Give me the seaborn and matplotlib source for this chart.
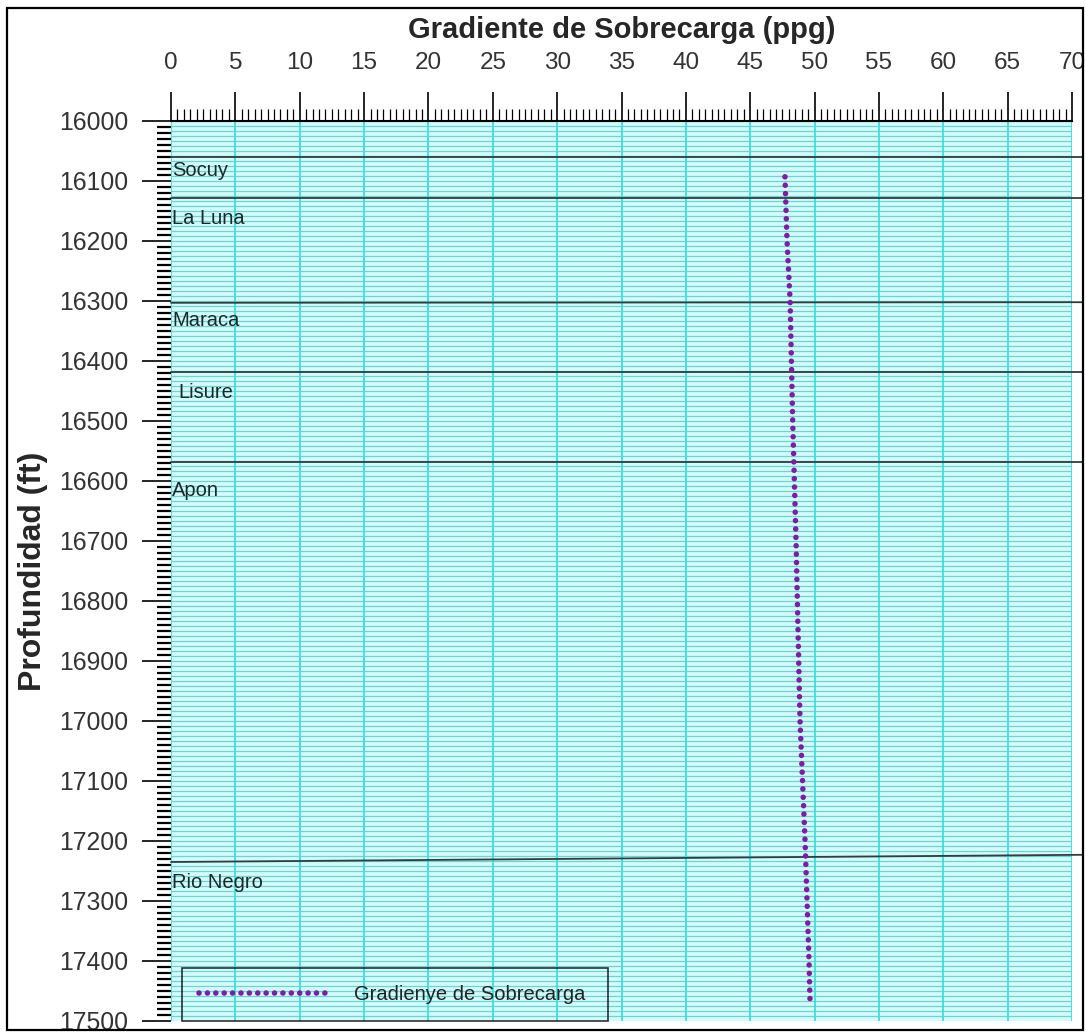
import numpy as np
import seaborn as sns
import matplotlib.pyplot as plt
from matplotlib.patches import Rectangle

# overburden gradient curve (ppg vs depth ft)
depth = [16093, 16200, 16300, 16500, 16700, 17000, 17200, 17400, 17470]
gradient = [47.7, 47.86, 48.1, 48.3, 48.56, 48.87, 49.26, 49.57, 49.65]

# formation tops: depth at left edge and right edge of the line
formations = ["Socuy", "La Luna", "Maraca", "Lisure", "Apon", "Rio Negro"]
top_left = [16060, 16128, 16303, 16418, 16568, 17235]
top_right = [16060, 16128, 16302, 16418, 16568, 17223]
label_depth = [16082, 16162, 16332, 16453, 16615, 17270]

x_ticks = list(range(0, 75, 5))
y_ticks = list(range(16000, 17600, 100))

sns.set_theme(style="white")
plt.rcParams['font.family'] = ['Liberation Sans', 'DejaVu Sans']

fig = plt.figure(figsize=(10.86, 10.34), dpi=100)
ax = fig.add_axes([171 / 1086, 1 - 1021 / 1034, 901 / 1086, 900 / 1034])
ax.set_facecolor('#d2fbfb')

# grid
for yy in np.arange(16000, 17500, 100 / 12):
    ax.axhline(yy, color='#76d0d0', lw=0.9, zorder=1)
for xx in x_ticks:
    ax.axvline(xx, color='#3ddede', lw=1.3, zorder=1.5)

# formation tops
for name, yl, yr, yt in zip(formations, top_left, top_right, label_depth):
    ax.plot([0, 70.8], [yl, yr], color='#2f3f3f', lw=1.3, clip_on=False, zorder=2)
    dx = 0.55 if name == "Lisure" else 0.1
    ax.text(dx, yt, name, fontsize=14.5, color='#1a2a2a', va='center', ha='left', zorder=3)

sns.lineplot(x=gradient, y=depth, sort=False, estimator=None, ax=ax,
             color='#7b1fa2', lw=4.0, linestyle=(0, (0.01, 1.5)),
             dash_capstyle='round', label="Gradienye de Sobrecarga", zorder=4)

ax.set_xlim(0, 70)
ax.set_ylim(17500, 16000)
ax.set_xticks(x_ticks)
ax.set_yticks(y_ticks)
ax.set_xticks(np.arange(0, 70.01, 0.5), minor=True)
ax.set_yticks(np.arange(16000, 17501, 10), minor=True)

ax.xaxis.tick_top()
ax.xaxis.set_label_position('top')
ax.tick_params(axis='x', which='major', direction='out', length=21, width=1.2,
               color='black', labelsize=17.5, pad=13, top=True, bottom=False)
ax.tick_params(axis='x', which='minor', direction='out', length=9, width=0.9,
               color='black', top=True, bottom=False)
ax.tick_params(axis='y', which='major', direction='out', length=21, width=1.2,
               color='black', labelsize=17.8, pad=10, left=True)
ax.tick_params(axis='y', which='minor', direction='out', length=10, width=1.6,
               color='black', left=True)
for lab in ax.get_xticklabels() + ax.get_yticklabels():
    lab.set_color('#333333')

for s in ['right', 'bottom', 'left']:
    ax.spines[s].set_visible(False)
ax.spines['top'].set_color('black')
ax.spines['top'].set_linewidth(1.5)

ax.set_xlabel("Gradiente de Sobrecarga (ppg)", fontsize=21, fontweight='bold', labelpad=10)
ax.set_ylabel("Profundidad (ft)", fontsize=23, fontweight='bold', labelpad=8)

leg = ax.legend(loc='lower left', bbox_to_anchor=(11 / 901, 0.0, 426 / 901, 0.06),
                mode='expand', borderaxespad=0, frameon=True, fancybox=False,
                handlelength=6.6, handletextpad=1.1, borderpad=0.85, fontsize=14.5)
leg.get_frame().set_edgecolor('black')
leg.get_frame().set_facecolor('none')
leg.get_frame().set_linewidth(1.2)
for t in leg.get_texts():
    t.set_color('#222222')

# outer frame
fig.patches.append(Rectangle((7 / 1086, 4 / 1034), 1076 / 1086, 1022 / 1034,
                             transform=fig.transFigure, fill=False,
                             edgecolor='black', lw=1.6))

fig.savefig("out.png", dpi=100)
